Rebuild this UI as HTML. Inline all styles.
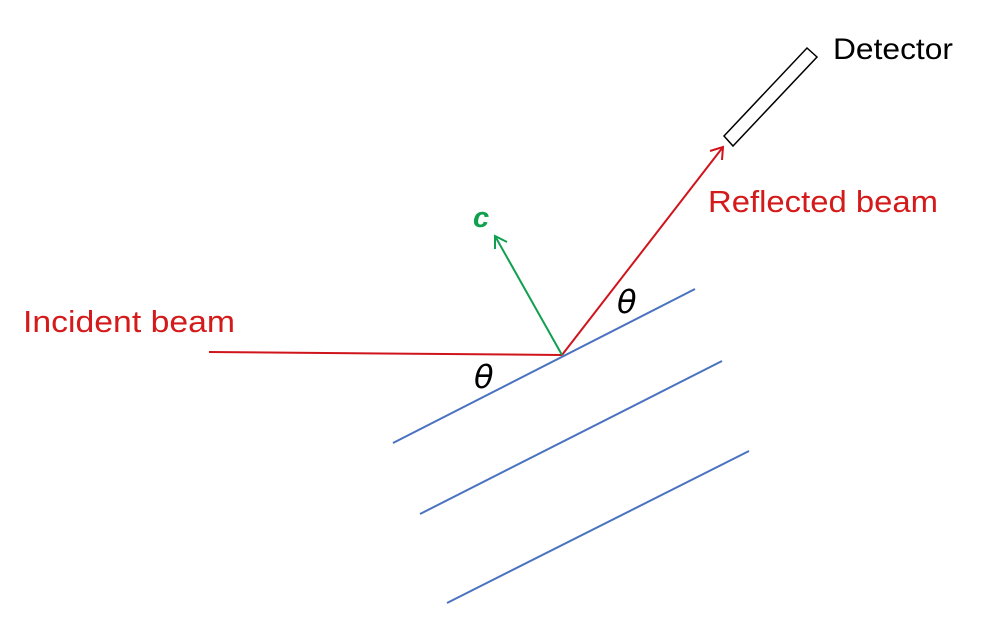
<!DOCTYPE html>
<html><head><meta charset="utf-8"><style>
html,body{margin:0;padding:0;background:#fff;}
svg{display:block;}
</style></head><body>
<svg width="996" height="626" viewBox="0 0 996 626" xmlns="http://www.w3.org/2000/svg">
<rect width="996" height="626" fill="#fff"/>
<!-- crystal planes -->
<g stroke="#4A72C0" stroke-width="2" fill="none">
<line x1="393" y1="443" x2="695" y2="289"/>
<line x1="420" y1="514" x2="722" y2="361"/>
<line x1="447" y1="603" x2="749" y2="451"/>
</g>
<!-- incident beam -->
<line x1="209" y1="352" x2="562" y2="355" stroke="#D0141C" stroke-width="2"/>
<!-- reflected beam -->
<line x1="562" y1="355" x2="723" y2="147" stroke="#D0141C" stroke-width="2"/>
<polyline points="710,151 723,147 722,160" fill="none" stroke="#D0141C" stroke-width="2"/>
<!-- c vector -->
<line x1="562" y1="355" x2="495" y2="236" stroke="#10A050" stroke-width="2"/>
<polyline points="495,249 495,236 507,242" fill="none" stroke="#10A050" stroke-width="2"/>
<!-- detector -->
<polygon points="724,136 733,146 817,57 807,48" fill="#fff" stroke="#000" stroke-width="1.5"/>
<!-- labels -->
<text x="833" y="59" font-family="Liberation Sans, sans-serif" font-size="30" fill="#000" textLength="120" lengthAdjust="spacingAndGlyphs">Detector</text>
<text x="708" y="212" font-family="Liberation Sans, sans-serif" font-size="31" fill="#D41A1A" textLength="230" lengthAdjust="spacingAndGlyphs">Reflected beam</text>
<text x="23" y="332" font-family="Liberation Sans, sans-serif" font-size="31" fill="#D41A1A" textLength="212" lengthAdjust="spacingAndGlyphs">Incident beam</text>
<text x="473" y="227" font-family="Liberation Sans, sans-serif" font-size="29" font-weight="bold" font-style="italic" fill="#10A050">c</text>
<text x="617" y="313" font-family="DejaVu Sans, sans-serif" font-size="32" font-style="italic" fill="#000">θ</text>
<text x="474" y="388" font-family="DejaVu Sans, sans-serif" font-size="32" font-style="italic" fill="#000">θ</text>
</svg>
</body></html>
